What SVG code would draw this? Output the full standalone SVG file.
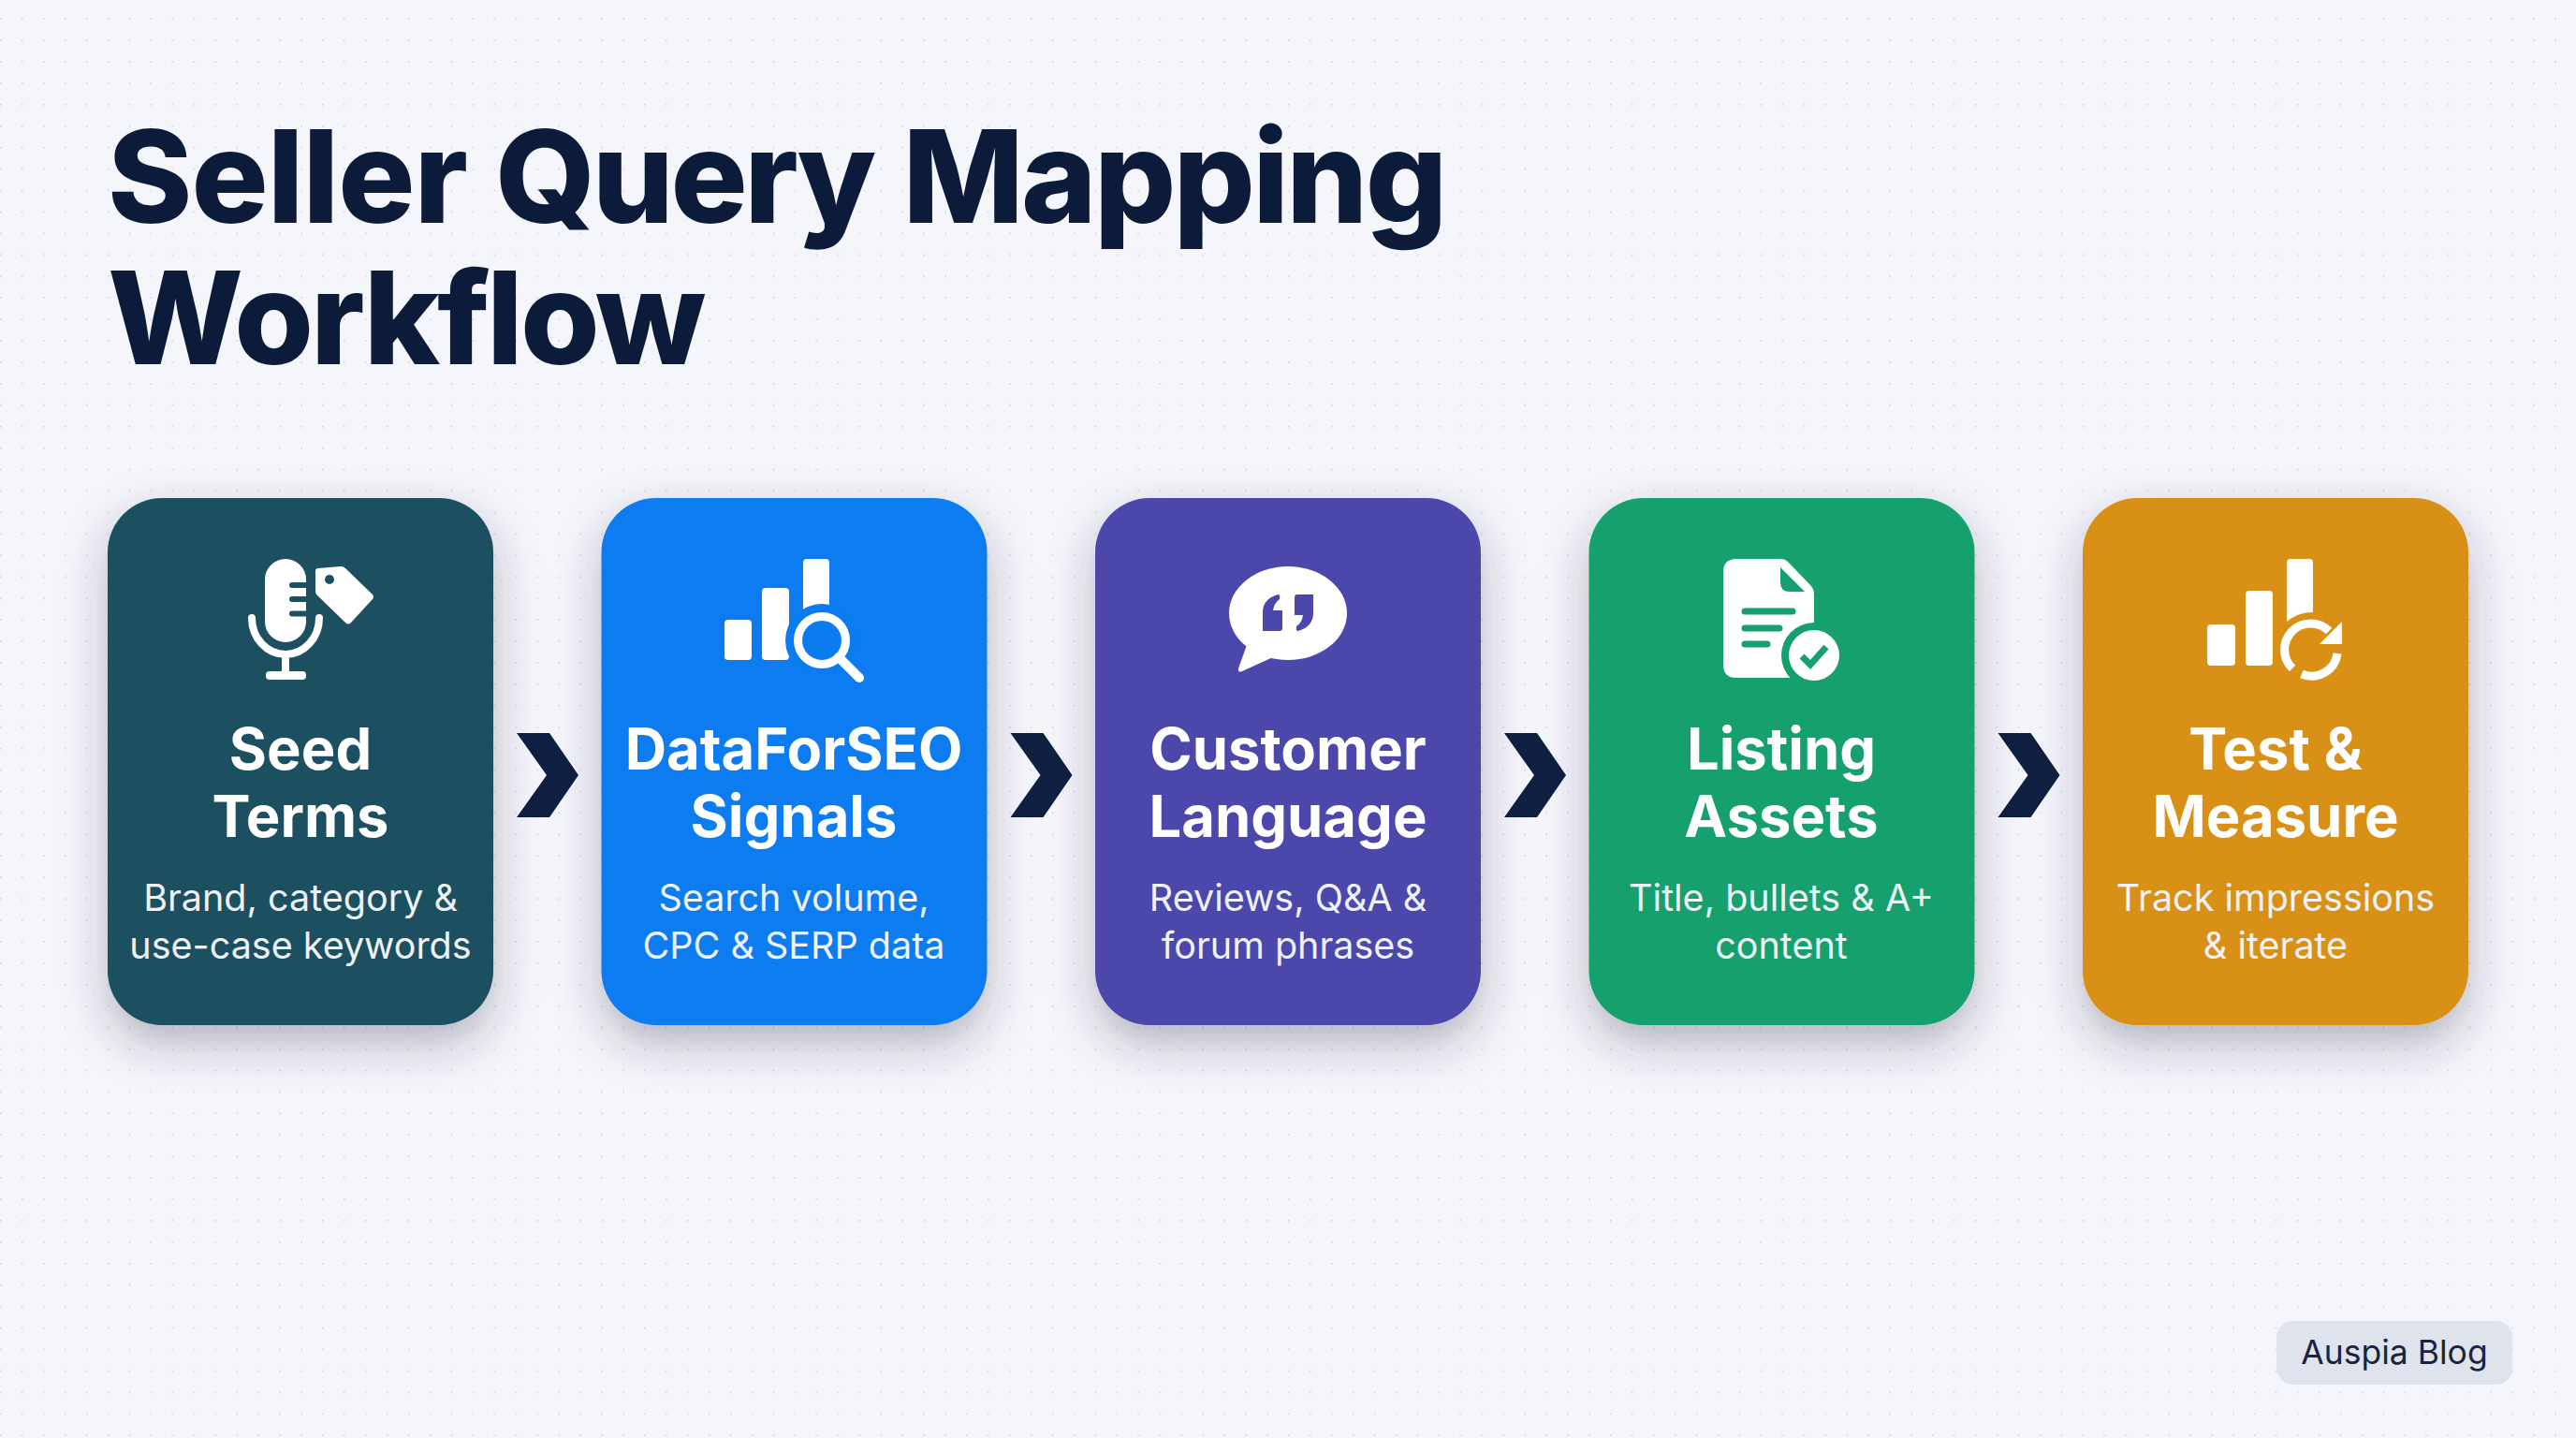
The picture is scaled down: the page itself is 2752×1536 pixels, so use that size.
<svg xmlns="http://www.w3.org/2000/svg" width="2752" height="1536" viewBox="0 0 2752 1536">
<style>
text{font-family:Inter,"Liberation Sans",sans-serif;text-anchor:middle}
.h{font-size:137px;font-weight:800;fill:#0d1b3a;text-anchor:start}
.t{font-size:61.5px;font-weight:700;fill:#fff}
.d{font-size:39.500px;font-weight:400;fill:#eef2f6}
.w{fill:#fff}
.card{filter:url(#sh)}
</style>
<defs>
<pattern id="dots" width="22.933" height="22.925" patternUnits="userSpaceOnUse" y="19.2"><circle cx="0.8" cy="0.8" r="1.2" fill="#d5d9e4"/></pattern>
<filter id="sh" x="-30%" y="-30%" width="160%" height="170%"><feDropShadow dx="0" dy="20" stdDeviation="24" flood-color="#2a2f40" flood-opacity="0.32"/></filter>
<path id="chev" d="M552 783H587L618 828L587 873H552L584 828Z" fill="#0f1f42"/>
</defs>
<rect width="2752" height="1536" fill="#f5f6fb"/>
<rect width="2752" height="1536" fill="url(#dots)"/>
<text class="h" x="115" y="238"><tspan letter-spacing="-1">Seller </tspan><tspan dx="1" letter-spacing="-3.400">Query </tspan><tspan dx="5" letter-spacing="-2.700">Mapping</tspan></text>
<text class="h" x="115" y="389" letter-spacing="-3">Workflow</text>
<g id="connectors">
<use href="#chev"/><use href="#chev" x="527.5"/><use href="#chev" x="1055"/><use href="#chev" x="1582.5"/>
</g>
<g id="node-seed">
<rect class="card" x="115" y="532" width="412" height="563" rx="58" fill="#1c4f60"/>
<rect class="w" x="283" y="597" width="44" height="89" rx="22"/>
<path d="M312 625H327M312 640H327M312 655.500H327" stroke="#1c4f60" stroke-width="6" stroke-linecap="round"/>
<path d="M269 660A36 39 0 0 0 341 660M305 700V720" fill="none" stroke="#fff" stroke-width="8" stroke-linecap="round"/>
<rect class="w" x="284" y="717" width="43" height="9" rx="4"/>
<path class="w" fill-rule="evenodd" d="M337 610Q337 607 340 607L364 605Q367 605 369 607L398 635Q400 638 398 640L375 665Q372 668 369 665L339 636Q337 634 337 632ZM352 614A5 5 0 1 0 352 624A5 5 0 1 0 352 614Z"/>
<text class="t" x="321" y="822">Seed</text>
<text class="t" x="321" y="894">Terms</text>
<text class="d" x="321" y="973">Brand, category &amp;</text>
<text class="d" x="321" y="1024">use-case keywords</text>
</g>
<g id="node-dataforseo">
<rect class="card" x="642.500" y="532" width="412" height="563" rx="58" fill="#0a7cf0"/>
<rect class="w" x="774" y="662" width="29" height="43" rx="4"/>
<rect class="w" x="814" y="628" width="29" height="77" rx="4"/>
<rect class="w" x="858" y="597" width="28" height="70" rx="4"/>
<circle cx="878" cy="684" r="39" fill="#0a7cf0"/>
<circle cx="878" cy="684" r="25.500" fill="none" stroke="#fff" stroke-width="9"/>
<path d="M896 702L918 724" stroke="#fff" stroke-width="10" stroke-linecap="round"/>
<text class="t" x="848" y="822">DataForSEO</text>
<text class="t" x="848" y="894">Signals</text>
<text class="d" x="848" y="973">Search volume,</text>
<text class="d" x="848" y="1024">CPC &amp; SERP data</text>
</g>
<g id="node-customer">
<rect class="card" x="1170" y="532" width="412" height="563" rx="58" fill="#4c47ab"/>
<ellipse class="w" cx="1376" cy="655" rx="63" ry="50"/>
<path class="w" d="M1332 689L1323 714Q1322 719 1327 717L1360 702Z"/>
<path d="M1349 674V654Q1349 640 1365 635Q1368 635 1367 640Q1361 644 1360 652H1370V671Q1370 674 1367 674Z" fill="#4c47ab"/>
<path d="M1403 635V655Q1403 669 1387 674Q1384 674 1385 669Q1391 665 1392 657H1383V638Q1383 635 1386 635Z" fill="#4c47ab"/>
<text class="t" x="1376" y="822">Customer</text>
<text class="t" x="1376" y="894">Language</text>
<text class="d" x="1376" y="973">Reviews, Q&amp;A &amp;</text>
<text class="d" x="1376" y="1024">forum phrases</text>
</g>
<g id="node-listing">
<rect class="card" x="1697.500" y="532" width="412" height="563" rx="58" fill="#17a06d"/>
<path class="w" d="M1841 611Q1841 597 1855 597H1903Q1907 597 1910 600L1934 625Q1938 629 1938 635V724H1855Q1841 724 1841 710Z"/>
<path d="M1902 606L1928 632H1912Q1902 632 1902 622Z" fill="#17a06d"/>
<path d="M1864 653H1915M1864 671H1901M1864 688H1888" stroke="#17a06d" stroke-width="7" stroke-linecap="round"/>
<circle cx="1938" cy="700" r="35" fill="#17a06d"/>
<circle class="w" cx="1938" cy="700" r="27"/>
<path d="M1925 701L1934 710L1951 691" fill="none" stroke="#17a06d" stroke-width="7"/>
<text class="t" x="1903" y="822">Listing</text>
<text class="t" x="1903" y="894">Assets</text>
<text class="d" x="1903" y="973">Title, bullets &amp; A+</text>
<text class="d" x="1903" y="1024">content</text>
</g>
<g id="node-test">
<rect class="card" x="2225" y="532" width="412" height="563" rx="58" fill="#d99015"/>
<rect class="w" x="2358" y="667" width="30" height="44" rx="4"/>
<rect class="w" x="2399" y="631" width="29" height="80" rx="4"/>
<rect class="w" x="2443" y="597" width="28" height="80" rx="4"/>
<circle cx="2470" cy="695" r="41" fill="#d99015"/>
<path d="M2449 714A27.500 27.500 0 0 1 2488 674M2497 698A27.500 27.500 0 0 1 2459 720" fill="none" stroke="#fff" stroke-width="9"/>
<path class="w" d="M2502 664V688H2478Z"/>
<text class="t" x="2431" y="822">Test &amp;</text>
<text class="t" x="2431" y="894">Measure</text>
<text class="d" x="2431" y="973">Track impressions</text>
<text class="d" x="2431" y="1024">&amp; iterate</text>
</g>
<g id="badge">
<rect x="2432" y="1411" width="252" height="68" rx="18" fill="#dfe3ec"/>
<text x="2558" y="1457" font-size="35.500" fill="#1a2440">Auspia Blog</text>
</g>
</svg>
